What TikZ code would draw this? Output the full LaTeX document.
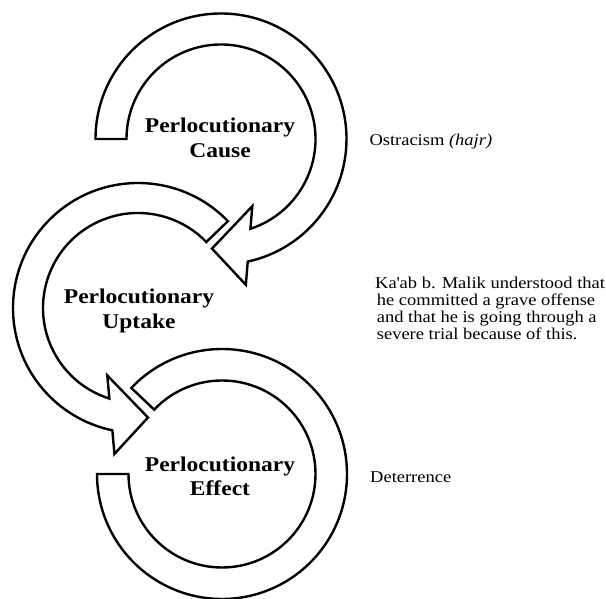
\documentclass[tikz,border=0pt]{standalone}
\usepackage{fontspec}
\setmainfont{Liberation Serif}[FakeStretch=1.12]
\begin{document}
\begin{tikzpicture}[x=1pt,y=1pt,
  ring/.style={draw=black, line width=2.4pt, fill=white, line join=miter},
  title/.style={font=\fontsize{21}{24.3}\selectfont\bfseries, align=center, anchor=base, inner sep=0pt},
  note/.style={font=\fontsize{16.5}{17}\selectfont, align=left, anchor=base west, inner sep=0pt}]
\useasboundingbox (0,0) rectangle (606,599);

% centres of the three circular arrows
\coordinate (ccause)  at (221,460);
\coordinate (cuptake) at (138,291);
\coordinate (ceffect) at (222,125);

% Effect: open ring, clockwise from upper left round to a flat end on the left
\begin{scope}[shift={(ceffect)}]
  \draw[ring] (136.5:125) arc[start angle=136.5, end angle=-180, radius=125]
    -- (180:93.5) arc[start angle=-180, end angle=136.5, radius=93.5] -- cycle;
\end{scope}

% Uptake: counter-clockwise ring with its head at the lower right
\begin{scope}[shift={(cuptake)}]
  \draw[ring] (44:125) arc[start angle=44, end angle=258.16, radius=125]
    -- (260.83:147.9) -- (275.2:110) -- (245.5:74.1)
    -- (252.47:95) arc[start angle=252.47, end angle=44, radius=95] -- cycle;
\end{scope}

% Cause: clockwise ring from a flat end on the left, head at the bottom
\begin{scope}[shift={(ccause)}]
  \draw[ring] (180:125.5) arc[start angle=180, end angle=-77.7, radius=125.5]
    -- (-80.33:147.9) -- (-94.7:110) -- (-65:74.1)
    -- (-71.85:94.5) arc[start angle=-71.85, end angle=180, radius=94.5] -- cycle;
\end{scope}

% stage titles (the base anchor sits on the last line)
\node[title] (tcause)  at (220,441.7) {Perlocutionary\\Cause};
\node[title] (tuptake) at (139,270.7) {Perlocutionary\\Uptake};
\node[title] (teffect) at (220,103)   {Perlocutionary\\Effect};

% explanations on the right
\node[note] (ncause)  at (369.3,453.3) {Ostracism \textit{(hajr)}};
\node[note] (nuptake) at (375,259.7)
  {Ka\textquotesingle ab b. Malik understood that\\
   \hspace*{1.7pt}he committed a grave offense\\
   \hspace*{1.7pt}and that he is going through a\\
   \hspace*{1.7pt}severe trial because of this.};
\node[note] (neffect) at (370,116.6) {Deterrence};
\end{tikzpicture}
\end{document}
